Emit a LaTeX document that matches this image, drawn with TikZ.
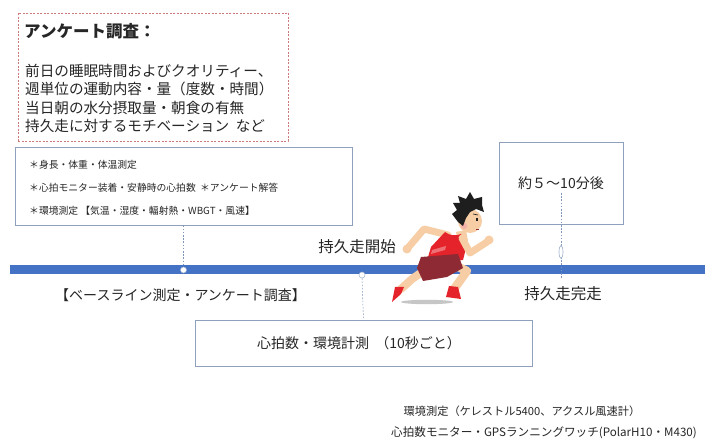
\documentclass[tikz,border=0pt]{standalone}
\usepackage{fontspec}
\setmainfont{Noto Sans CJK JP}
\usetikzlibrary{shapes.geometric}
\definecolor{lineblue}{HTML}{4472C4}
\definecolor{boxedge}{HTML}{8EA0BC}
\definecolor{conn}{HTML}{7F96B8}
\definecolor{surveyred}{HTML}{CC7A7A}
\definecolor{skin}{HTML}{F6CDA4}
\definecolor{shirt}{HTML}{E5232B}
\definecolor{shorts}{HTML}{8E2A33}
\definecolor{hair}{HTML}{1E1E1E}
\definecolor{txt}{HTML}{262626}
\newcommand{\fs}[1]{\fontsize{#1}{#1}\selectfont}
\begin{document}
\begin{tikzpicture}[x=1pt,y=-1pt,
  panel/.style={draw=boxedge,line width=0.8pt,fill=white,inner sep=0pt},
  survey/.style={draw=surveyred,line width=0.6pt,dash pattern=on 2pt off 1.5pt,inner sep=0pt},
  link/.style={draw=conn,line width=0.5pt,dash pattern=on 1.6pt off 1.6pt},
  tick/.style={circle,draw=conn!70,fill=white,line width=0.5pt,inner sep=0pt,minimum size=6pt},
  lbl/.style={text=txt,inner sep=0pt},
  limb/.style={line width=7pt,line cap=round,line join=round,draw=skin}]
\useasboundingbox (0,0) rectangle (720,443);
\fill[white] (0,0) rectangle (720,443);

% questionnaire box
\node[survey,minimum width=270,minimum height=128] (quest) at (153,77) {};
\node[lbl,anchor=west,font=\fs{16.5}\bfseries] (qtitle) at (24,31) {アンケート調査：};
\node[lbl,anchor=west,font=\fs{14.6}] (q1) at (25,71) {前日の睡眠時間およびクオリティー、};
\node[lbl,anchor=west,font=\fs{14.6}] (q2) at (25,89) {週単位の運動内容・量（度数・時間）};
\node[lbl,anchor=west,font=\fs{14.6}] (q3) at (25,107.5) {当日朝の水分摂取量・朝食の有無};
\node[lbl,anchor=west,font=\fs{14.6}] (q4) at (25,126) {持久走に対するモチベーション\ \ など};

% baseline box
\node[panel,minimum width=337,minimum height=78] (base) at (183.5,186) {};
\node[lbl,anchor=west,font=\fs{9.8}] (b1) at (29,165) {＊身長・体重・体温測定};
\node[lbl,anchor=west,font=\fs{9.8}] (b2) at (29,188) {＊心拍モニター装着・安静時の心拍数\ \ ＊アンケート解答};
\node[lbl,anchor=west,font=\fs{9.8}] (b3) at (29,211) {＊環境測定 【気温・湿度・輻射熱・WBGT・風速】};

% duration box
\node[panel,minimum width=124,minimum height=82] (dur) at (561,183) {};
\node[lbl,font=\fs{14}] (durtxt) at (561,183) {約５～10分後};
\coordinate (durlow) at (561,193);

% timeline
\coordinate (tlA) at (10,270);
\coordinate (tlB) at (705,270);
\draw[lineblue,line width=9pt] (tlA) -- (tlB);

\node[tick] (t1) at (183.5,270) {};
\node[tick] (t2) at (362,275) {};
\coordinate (t3) at (561,279);

% measurement box
\node[panel,minimum width=337,minimum height=46] (meas) at (363.5,343) {};
\node[lbl,font=\fs{14}] (meastxt) at (359,343) {心拍数・環境計測\ \ （10秒ごと）};

% connectors
\draw[link] (base.south) -- (t1.north);
\draw[link] (t2.south) -- (meas.north);
\draw[link] (durlow) -- (t3);
\node[ellipse,draw=conn!80,fill=white,line width=0.6pt,inner sep=0pt,minimum width=4,minimum height=13] (mark) at (561,252) {};

% timeline labels
\node[lbl,font=\fs{15.5}] (start) at (357,247) {持久走開始};
\node[lbl,font=\fs{15.5}] (finish) at (563,294) {持久走完走};
\node[lbl,anchor=west,font=\fs{14}] (baselbl) at (55,295) {【ベースライン測定・アンケート調査】};

% runner
\fill[gray!45] (427,302) ellipse (26 and 2.2);
\draw[limb] (448,235) -- (424,229) -- (407,249);
\fill[skin] (407,249) circle (4.5);
\draw[limb,line width=8pt] (428,268) -- (412,279) -- (401,289);
\fill[shirt] (392,302) -- (395,287) -- (404,287) -- (401,294) -- cycle;
\fill[skin] (456,232) -- (466,230) -- (468,241) -- (458,243) -- cycle;
\fill[shirt] (445,232) .. controls (450,236) and (456,236) .. (461,234)
  -- (466,248) -- (463,260) -- (426,264) -- (431,247) -- cycle;
\fill[white,opacity=0.35] (432,250) -- (446,246) -- (445,250) -- (431,254) -- cycle;
\draw[limb,line width=8.5pt] (452,264) -- (467,271) -- (454,289);
\fill[shirt] (446,297) -- (449,286) -- (458,287) -- (461,299) -- cycle;
\fill[shorts] (421,257) -- (458,254) -- (463,268) -- (447,277) -- (423,281) -- (417,268) -- cycle;
\draw[limb] (462,238) -- (470,253) -- (487,242);
\fill[skin] (489,240) circle (4.5);
\fill[skin] (470,221) circle (12);
\fill[shirt!40,opacity=0.7] (464,226) circle (3.2);
\fill[hair] (458,222) -- (452,214) -- (457,210) -- (453,203) -- (460,203) -- (458,196)
  -- (466,199) -- (470,192) -- (474,199) -- (482,197) -- (482,205) -- (484,212)
  -- (476,209) -- (470,212) -- (466,218) -- (463,226) -- cycle;
\fill[hair] (476,218) rectangle (478,221);
\draw[hair,line width=0.6pt] (473,214) -- (478,215);
\draw[shorts,line width=0.8pt] (476,229) -- (479,229);

% equipment
\node[lbl,font=\fs{11.2}] (equip1) at (522,411) {環境測定（ケレストル5400、アクスル風速計）};
\node[lbl,font=\fs{11.6}] (equip2) at (544,433) {心拍数モニター・GPSランニングワッチ(PolarH10・M430)};
\end{tikzpicture}
\end{document}
